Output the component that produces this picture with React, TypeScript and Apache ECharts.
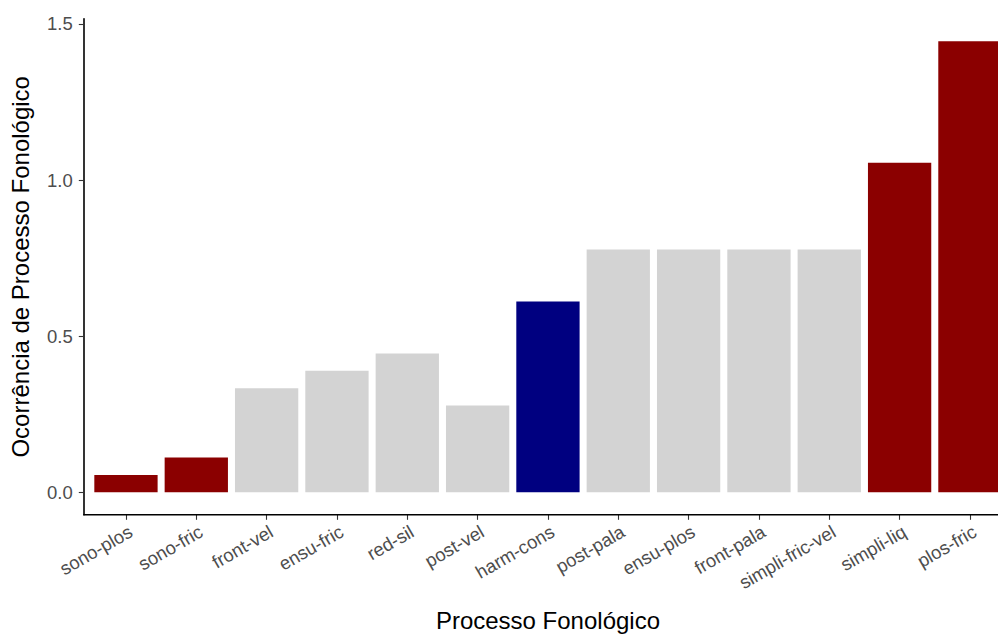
import React, { useEffect, useRef } from "react";
import * as echarts from "echarts";

const categories = [
  "sono-plos", "sono-fric", "front-vel", "ensu-fric", "red-sil", "post-vel",
  "harm-cons", "post-pala", "ensu-plos", "front-pala", "simpli-fric-vel", "simpli-liq", "plos-fric",
];
const values = [
  0.0556, 0.1111, 0.3333, 0.3889, 0.4444, 0.2778,
  0.6111, 0.7778, 0.7778, 0.7778, 0.7778, 1.0556, 1.4444,
];
const groups = [
  "alto", "alto", "neutro", "neutro", "neutro", "neutro",
  "destaque", "neutro", "neutro", "neutro", "neutro", "alto", "alto",
];
const yTicks = [0, 0.5, 1.0, 1.5];

const groupColors: Record<string, string> = {
  alto: "#8B0000",
  neutro: "#D3D3D3",
  destaque: "#000080",
};

export default function App() {
  const ref = useRef<HTMLDivElement>(null);
  useEffect(() => {
    if (!ref.current) return;
    const chart = echarts.init(ref.current, undefined, { renderer: "svg" });
    const font = "'Liberation Sans', Arial, Helvetica, sans-serif";
    chart.setOption({
      animation: false,
      backgroundColor: "#ffffff",
      textStyle: { fontFamily: font },
      grid: {
        left: 90.8,
        top: 18.8,
        width: 914.3,
        height: 496,
        containLabel: false,
        outerBoundsMode: "none",
      },
      xAxis: {
        type: "category",
        data: categories,
        boundaryGap: true,
        axisLine: { show: false, onZero: false },
        axisTick: { show: true, alignWithLabel: true, length: 5, lineStyle: { color: "#333333", width: 1.1 } },
        axisLabel: {
          rotate: 30,
          align: "right",
          verticalAlign: "top",
          color: "#4D4D4D",
          fontSize: 18.5,
          fontFamily: font,
          margin: 7,
          interval: 0,
        },
        name: "Processo Fonológico",
        nameLocation: "middle",
        nameGap: 94,
        nameTextStyle: { color: "#000000", fontSize: 24, fontFamily: font },
        splitLine: { show: false },
      },
      yAxis: {
        type: "value",
        min: -0.0722,
        max: 1.5166,
        offset: 7,
        axisLine: { show: true, lineStyle: { color: "#000000", width: 1.6 } },
        axisTick: { show: true, length: 5, customValues: yTicks, lineStyle: { color: "#333333", width: 1.1 } },
        axisLabel: {
          customValues: yTicks,
          formatter: (v: number) => v.toFixed(1),
          color: "#4D4D4D",
          fontSize: 18.5,
          fontFamily: font,
          margin: 11,
        },
        splitLine: { show: false },
        name: "Ocorrência de Processo Fonológico",
        nameLocation: "middle",
        nameGap: 51,
        nameRotate: 90,
        nameTextStyle: { color: "#000000", fontSize: 24, fontFamily: font },
      },
      graphic: [
        {
          type: "line",
          shape: { x1: 83.2, y1: 514.8, x2: 998, y2: 514.8 },
          style: { stroke: "#000000", lineWidth: 1.6 },
          z: 10,
        },
      ],
      series: [
        {
          type: "bar",
          barWidth: "90%",
          data: values.map((v, i) => ({
            value: v,
            itemStyle: { color: groupColors[groups[i]] },
          })),
        },
      ],
    });
    return () => chart.dispose();
  }, []);
  return (
    <div
      ref={ref}
      style={{ position: "fixed", left: 0, top: 0, width: 998, height: 634 }}
    />
  );
}
